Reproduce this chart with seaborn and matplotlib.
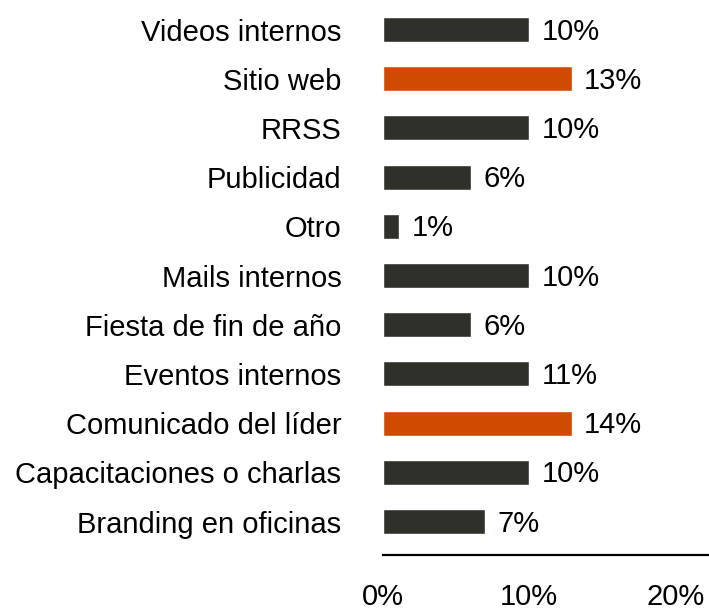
import matplotlib
matplotlib.use("Agg")
import matplotlib.pyplot as plt
import seaborn as sns
import pandas as pd

# Bar lengths as drawn in the picture, and the percentage text printed next to each bar
categories = [
    "Videos internos", "Sitio web", "RRSS", "Publicidad", "Otro",
    "Mails internos", "Fiesta de fin de año", "Eventos internos",
    "Comunicado del líder", "Capacitaciones o charlas", "Branding en oficinas",
]
shares = [10.0, 12.9, 10.0, 6.0, 1.1, 10.0, 6.0, 10.0, 12.9, 10.0, 7.0]
share_labels = ["10%", "13%", "10%", "6%", "1%", "10%", "6%", "11%", "14%", "10%", "7%"]
highlighted = ["Sitio web", "Comunicado del líder"]
x_ticks = [0, 10, 20]

DARK = "#30302b"
ORANGE = "#d04a02"

sns.set_theme(style="white")
plt.rcParams["font.family"] = ["Liberation Sans", "DejaVu Sans"]

df = pd.DataFrame({"canal": categories, "share": shares})
palette = {c: (ORANGE if c in highlighted else DARK) for c in categories}

fig = plt.figure(figsize=(7.09, 6.11), dpi=100)
ax = fig.add_axes([383 / 709, 56 / 611, 326 / 709, 555 / 611])

sns.barplot(data=df, x="share", y="canal", hue="canal", palette=palette,
            width=0.51, legend=False, saturation=1, ax=ax)

for patch, txt in zip(ax.patches, share_labels):
    ax.annotate(txt, (patch.get_width(), patch.get_y() + patch.get_height() / 2),
                xytext=(9, -1.5), textcoords="offset points",
                va="center", ha="left", fontsize=21, color="black")

ax.set_xlim(0, 22.3)
ax.set_ylim(10.68, -0.6)
ax.set_xticks(x_ticks)
ax.set_xticklabels([f"{t}%" for t in x_ticks])
ax.set_xlabel("")
ax.set_ylabel("")
ax.tick_params(axis="x", length=0, pad=20, labelsize=21, colors="black")
ax.tick_params(axis="y", length=0, pad=30, labelsize=21, colors="black")
for lbl in ax.get_xticklabels():
    lbl.set_x(lbl.get_position()[0])

for side in ["top", "right", "left"]:
    ax.spines[side].set_visible(False)
ax.spines["bottom"].set_color("black")
ax.spines["bottom"].set_linewidth(1.6)
ax.grid(False)

fig.savefig("out.png", dpi=100)
